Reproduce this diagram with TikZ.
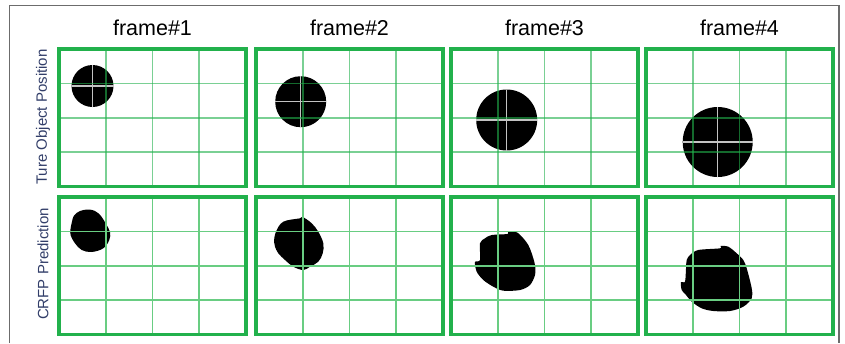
\documentclass[tikz,border=0pt]{standalone}
\usepackage{fontspec}
\setmainfont{Liberation Sans}
\usetikzlibrary{positioning}
\definecolor{panelgreen}{RGB}{34,177,76}
\definecolor{gridgreen}{RGB}{105,205,130}
\definecolor{labelblue}{RGB}{50,62,105}
\tikzset{
  panel/.style={draw=panelgreen, line width=3.4pt},
  gridtop/.style={draw=panelgreen, line width=1.6pt, draw opacity=0.6},
  gridbot/.style={draw=gridgreen, line width=1.6pt},
  crosshair/.style={draw={rgb,255:red,195;green,195;blue,195}, line width=1.3pt},
  frametitle/.style={anchor=base, font=\fontsize{21.5}{24}\selectfont},
  rowlabel/.style={rotate=90, text=labelblue, font=\fontsize{15}{18}\selectfont}
}
\begin{document}
\begin{tikzpicture}[x=1pt, y=-1pt]
            \useasboundingbox (0,0) rectangle (845,343);
            % outer frame
            \draw[line width=1.3pt, gray!85!black] (9.5,343) -- (9.5,5.5) -- (839,5.5) -- (839,343);

            % true object positions (top row)
            \foreach \cx/\cy/\r in {92.5/86/21, 300.7/101.7/25.5, 506.7/120/30.5, 717.7/142/35} {
              \fill[black] (\cx,\cy) circle (\r pt);
              \draw[crosshair] (\cx-\r,\cy) -- (\cx+\r,\cy) (\cx,\cy-\r) -- (\cx,\cy+\r);
            }

            % CRFP predictions (bottom row)
            \fill[black] plot[smooth cycle, tension=0.6] coordinates {(74,215.5) (80,211) (88,209.5) (95,211) (101,216) (106,224) (110,232) (109.3,240) (103.3,248.3) (91.7,252) (81.7,250) (75,243.3) (70.7,235.5) (70.5,229) (72,221.7)};
            \fill[black] plot[smooth cycle, tension=0.6] coordinates {(283.3,221.7) (300,218.3) (302.7,217) (311.7,223.3) (318.3,231.7) (323.3,243.3) (322.7,253.3) (318.3,261.7) (310,266.7) (303.3,270) (293.3,266.7) (285,260) (278.3,253.3) (275,246.7) (274,241.7) (276,231.7)};
            \fill[black] plot[smooth cycle, tension=0.5] coordinates {(485,238.3) (491.7,235) (507.7,234) (508,232) (516.7,232.3) (523.3,238.3) (528.3,245) (531.7,253.3) (535,265) (535,275) (530,285) (520,290) (503.3,290.7) (493.3,286.7) (483.3,280) (476.7,271.7) (475,262) (480,260) (480,243.3)};
            \fill[black] plot[smooth cycle, tension=0.5] coordinates {(690,255) (698.3,250) (720,248.3) (720.5,246) (728.3,246.7) (736.7,253.3) (743.3,260) (746.7,268.3) (751.7,288.3) (751.7,298.3) (743.3,306.7) (730,311) (713.3,311) (701.7,308.3) (691.7,301.7) (686,295) (681.7,290) (681,282) (685,281.7) (686,268.3) (686.7,260)};

            % panels with grid and titles
            \foreach \x [count=\i] in {59,256,451,646} {
              \foreach \k in {1,2,3} {
                \draw[gridtop] (\x+46.75*\k,49) -- ++(0,137.5);
                \draw[gridtop] (\x,49+34.375*\k) -- ++(187,0);
                \draw[gridbot] (\x+46.75*\k,197) -- ++(0,137.5);
                \draw[gridbot] (\x,197+34.375*\k) -- ++(187,0);
              }
              \draw[panel] (\x,49) rectangle ++(187,137.5);
              \draw[panel] (\x,197) rectangle ++(187,137.5);
              \node[frametitle] (title\i) at (\x+93.5,35) {frame\#\i};
            }

            \node[rowlabel] (truepos) at (43,117) {Ture Object Position};
            \node[rowlabel] (crfp) at (43,264) {CRFP Prediction};
        \end{tikzpicture}
\end{document}
